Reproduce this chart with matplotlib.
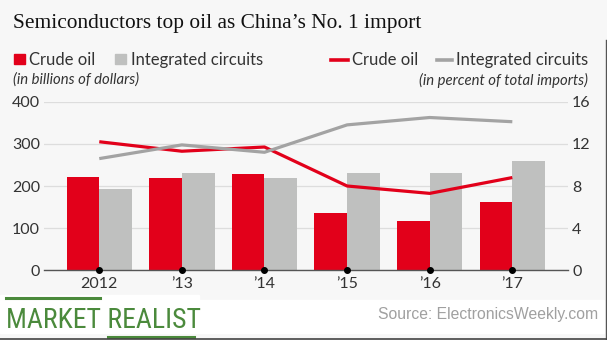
import matplotlib
matplotlib.use("Agg")
import numpy as np
import matplotlib.pyplot as plt
from matplotlib import font_manager
from matplotlib.font_manager import FontProperties
from matplotlib.patches import Rectangle
from matplotlib.lines import Line2D

# Chart data
years = ["2012", "\u201913", "\u201914", "\u201915", "\u201916", "\u201917"]
crude_oil_bn = [221, 220, 229, 135, 116, 161]          # billions of dollars
chips_bn = [193, 232, 219, 232, 230, 259]               # billions of dollars
crude_oil_pct = [12.2, 11.3, 11.7, 8.0, 7.3, 8.8]       # percent of total imports
chips_pct = [10.6, 11.9, 11.2, 13.8, 14.5, 14.1]        # percent of total imports
left_ticks = [0, 100, 200, 300, 400]
right_ticks = [0, 4, 8, 12, 16]

RED = "#e2001a"
GRAY_BAR = "#bfc0bf"
GRAY_LINE = "#a3a3a3"
BG = "#f7f7f7"
GREEN = "#4b8a3c"
INK = "#333333"

W, H = 607, 340
fig = plt.figure(figsize=(W / 100, H / 100), dpi=100, facecolor=BG)


def fx(px):
    return px / W


def fy(py):
    return 1 - py / H


def pick(*names):
    for n in names:
        try:
            font_manager.findfont(FontProperties(family=n), fallback_to_default=False)
            return n
        except Exception:
            pass
    return "DejaVu Sans"


SANS = pick("Lato", "Open Sans", "DejaVu Sans")
SERIF = pick("Liberation Serif", "DejaVu Serif")
NARROW = pick("Liberation Sans Narrow", "Roboto Condensed", "Open Sans Condensed", "Roboto")
ARIAL = pick("Liberation Sans", "DejaVu Sans")
narrow_size = 20 if NARROW != "Roboto" else 17.5

# ---- main axes -------------------------------------------------------------
ax = fig.add_axes([fx(44), fy(270.3), fx(568) - fx(44), (270.3 - 101.7) / H])
ax.set_facecolor("none")
x = np.arange(len(years))
bw = 0.395
ax.bar(x - bw / 2, crude_oil_bn, bw, color=RED, zorder=2)
ax.bar(x + bw / 2, chips_bn, bw, color=GRAY_BAR, zorder=2)
ax.set_ylim(0, 400)
ax.set_xlim(-0.669, 5.674)
ax.set_yticks(left_ticks)
ax.set_xticks(x)
ax.set_xticklabels(years)
ax.yaxis.grid(True, color="#dddddd", lw=0.9, zorder=0)
ax.set_axisbelow(True)
for s in ["top", "right", "left"]:
    ax.spines[s].set_visible(False)
ax.spines["bottom"].set_color("#555555")
ax.spines["bottom"].set_linewidth(1.0)
ax.spines["bottom"].set_zorder(3)
ax.tick_params(axis="both", length=0, labelsize=11.5, labelcolor=INK)
ax.tick_params(axis="y", pad=3)
ax.tick_params(axis="x", pad=5)
for lab in ax.get_xticklabels() + ax.get_yticklabels():
    lab.set_fontfamily(SANS)
# small dots marking each year on the baseline
ax.plot(x, np.zeros(len(x)), "o", ms=4, color="black", clip_on=False, zorder=5)

ax2 = ax.twinx()
ax2.set_ylim(0, 16)
ax2.set_yticks(right_ticks)
ax2.plot(x, crude_oil_pct, color=RED, lw=2.3, solid_capstyle="butt", zorder=4)
ax2.plot(x, chips_pct, color=GRAY_LINE, lw=2.3, solid_capstyle="butt", zorder=4)
for s in ["top", "right", "left", "bottom"]:
    ax2.spines[s].set_visible(False)
ax2.tick_params(axis="y", length=0, labelsize=11.5, labelcolor=INK, pad=3)
for lab in ax2.get_yticklabels():
    lab.set_fontfamily(SANS)

# ---- title -------------------------------------------------------------
fig.text(fx(13), fy(28), "Semiconductors top oil as China\u2019s No. 1 import",
         family=SERIF, fontsize=15.4, color="#111111", va="baseline")

# ---- legend row ----------------------------------------------------------
def square(x0, color):
    fig.patches.append(Rectangle((fx(x0), fy(64)), fx(11), 10 / H, color=color,
                                 transform=fig.transFigure, figure=fig))


def dash(x0, x1, color):
    fig.lines.append(Line2D([fx(x0), fx(x1)], [fy(60), fy(60)], lw=2.6,
                            color=color, transform=fig.transFigure, figure=fig))


leg_kw = dict(family=SANS, fontsize=12, color=INK, va="baseline")
square(13.5, RED)
fig.text(fx(29), fy(65), "Crude oil", **leg_kw)
square(115, GRAY_BAR)
fig.text(fx(131), fy(65), "Integrated circuits", **leg_kw)
dash(331, 348, RED)
fig.text(fx(352), fy(65), "Crude oil", **leg_kw)
dash(437, 452, GRAY_LINE)
fig.text(fx(588), fy(65), "Integrated circuits", ha="right", **leg_kw)

sub_kw = dict(family=SANS, fontsize=10.7, style="italic", color=INK, va="center")
fig.text(fx(13), fy(80), "(in billions of dollars)", **sub_kw)
fig.text(fx(588), fy(80), "(in percent of total imports)", ha="right", **sub_kw)

# ---- footer ---------------------------------------------------------------
fig.patches.append(Rectangle((0, fy(333)), fx(604), (333 - 300) / H, color="white",
                             transform=fig.transFigure, figure=fig, zorder=0))
fig.patches.append(Rectangle((0, fy(300)), fx(199), 5 / H, color="white",
                             transform=fig.transFigure, figure=fig, zorder=0))
fig.lines.append(Line2D([fx(6), fx(100)], [fy(297.5), fy(297.5)], lw=2.2, color=GREEN,
                        transform=fig.transFigure, figure=fig))
fig.lines.append(Line2D([fx(108), fx(194)], [fy(336.5), fy(336.5)], lw=2.2, color=GREEN,
                        transform=fig.transFigure, figure=fig))
fig.text(fx(6), fy(328), "MARKET REALIST", family=NARROW, fontsize=narrow_size,
         color=GREEN, va="baseline")
fig.text(fx(598), fy(314), "Source: ElectronicsWeekly.com", family=ARIAL,
         fontsize=11.3, color="#a0a0a0", ha="right", va="center")

# frame edges
fig.lines.append(Line2D([fx(605.5), fx(605.5)], [0, fy(40)], lw=1.0, color="#555555",
                        transform=fig.transFigure, figure=fig))
fig.lines.append(Line2D([0, 1], [fy(338.5), fy(338.5)], lw=1.2, color="#444444",
                        transform=fig.transFigure, figure=fig))

fig.savefig("out.png", dpi=100, facecolor=BG)
